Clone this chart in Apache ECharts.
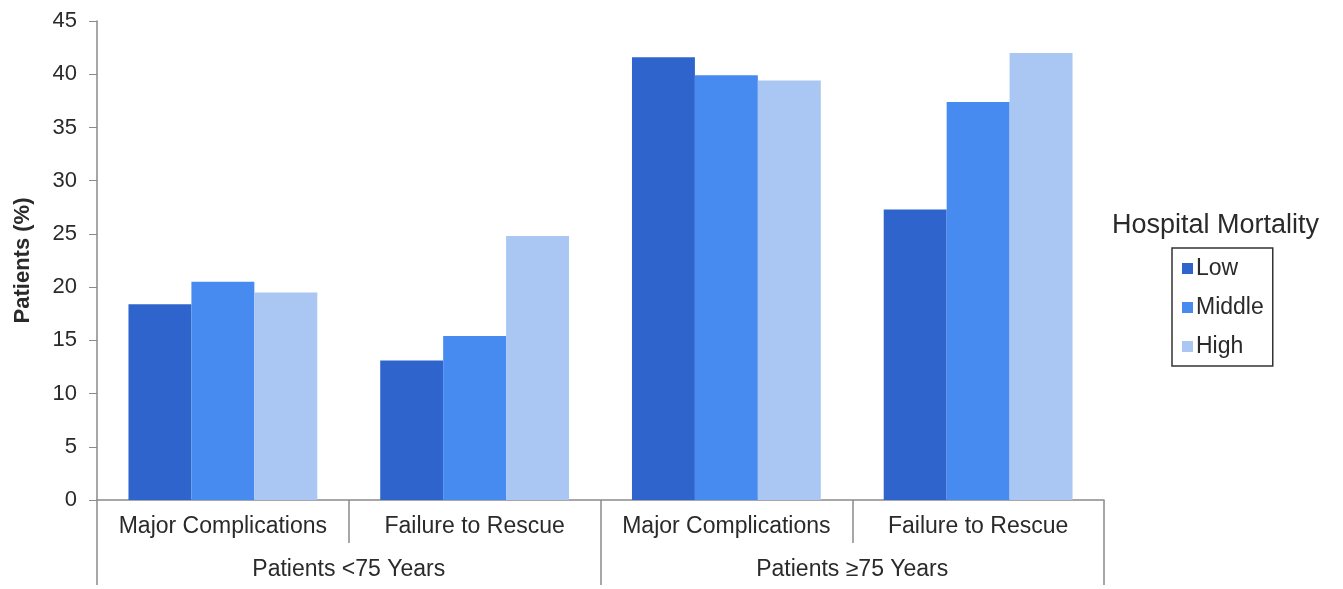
<!DOCTYPE html>
<html lang="en">
<head>
    <meta charset="UTF-8">
    <title>Hospital Mortality</title>
    <script src="https://cdn.jsdelivr.net/npm/echarts@6/dist/echarts.min.js"></script>
    <style>
        html,
        body {
            margin: 0px;
            width: 100%;
            height: 100%;
            background-color: white;
        }

        #chart {
            width: 1343px;
            height: 589px;
        }
    </style>
</head>
<body>
    <div id="chart"></div>
    <script>
        var outcomes = ['Major Complications', 'Failure to Rescue', 'Major Complications', 'Failure to Rescue'];
        var ageGroups = ['Patients <75 Years', 'Patients \u226575 Years'];
        var lowData = [18.4, 13.1, 41.6, 27.3];
        var middleData = [20.5, 15.4, 39.9, 37.4];
        var highData = [19.5, 24.8, 39.4, 42.0];

        var font = 'Liberation Sans, Arial, sans-serif';
        var axisGray = '#8a8a8a';
        var textColor = '#2a2a2a';

        var chart = echarts.init(document.getElementById('chart'));
        chart.setOption({
            animation: false,
            textStyle: { fontFamily: font },
            title: {
                text: 'Hospital Mortality',
                left: 1112,
                top: 212,
                padding: 0,
                textStyle: { fontFamily: font, fontSize: 27, fontWeight: 'normal', color: textColor }
            },
            legend: {
                orient: 'vertical',
                left: 1172,
                top: 248,
                itemWidth: 11,
                itemHeight: 11,
                itemGap: 16,
                padding: [9, 9, 8, 10],
                borderColor: '#333',
                borderWidth: 1.5,
                icon: 'rect',
                textStyle: { fontFamily: font, fontSize: 23, color: textColor, padding: [0, 0, 0, -2] },
                data: ['Low', 'Middle', 'High']
            },
            grid: { left: 97, right: 239, top: 21, bottom: 89, outerBoundsMode: 'none', containLabel: false },
            xAxis: [{
                type: 'category',
                data: outcomes,
                axisLine: { lineStyle: { color: axisGray, width: 1.5 } },
                axisTick: { show: true, interval: 0, length: 43, lineStyle: { color: axisGray, width: 1.5 } },
                axisLabel: { interval: 0, fontSize: 23, color: textColor, margin: 15 }
            }, {
                type: 'category',
                data: ageGroups,
                position: 'bottom',
                axisLine: { show: false },
                axisTick: { show: true, interval: 0, length: 85, lineStyle: { color: axisGray, width: 1.5 } },
                axisLabel: { interval: 0, fontSize: 23, color: textColor, margin: 58 }
            }],
            yAxis: {
                type: 'value',
                min: 0,
                max: 45,
                interval: 5,
                name: 'Patients (%)',
                nameLocation: 'middle',
                nameGap: 63,
                nameTextStyle: { fontFamily: font, fontSize: 22, fontWeight: 'bold', color: textColor },
                axisLine: { show: true, lineStyle: { color: axisGray, width: 1.5 } },
                axisTick: { show: true, length: 8, lineStyle: { color: axisGray } },
                axisLabel: { fontSize: 22, color: textColor, margin: 20 },
                splitLine: { show: false }
            },
            series: [{
                name: 'Low',
                type: 'bar',
                data: lowData,
                barGap: '0%',
                barCategoryGap: '25%',
                itemStyle: { color: '#2e64cc' }
            }, {
                name: 'Middle',
                type: 'bar',
                data: middleData,
                itemStyle: { color: '#478bf0' }
            }, {
                name: 'High',
                type: 'bar',
                data: highData,
                itemStyle: { color: '#a9c7f2' }
            }]
        });
    </script>
</body>
</html>
